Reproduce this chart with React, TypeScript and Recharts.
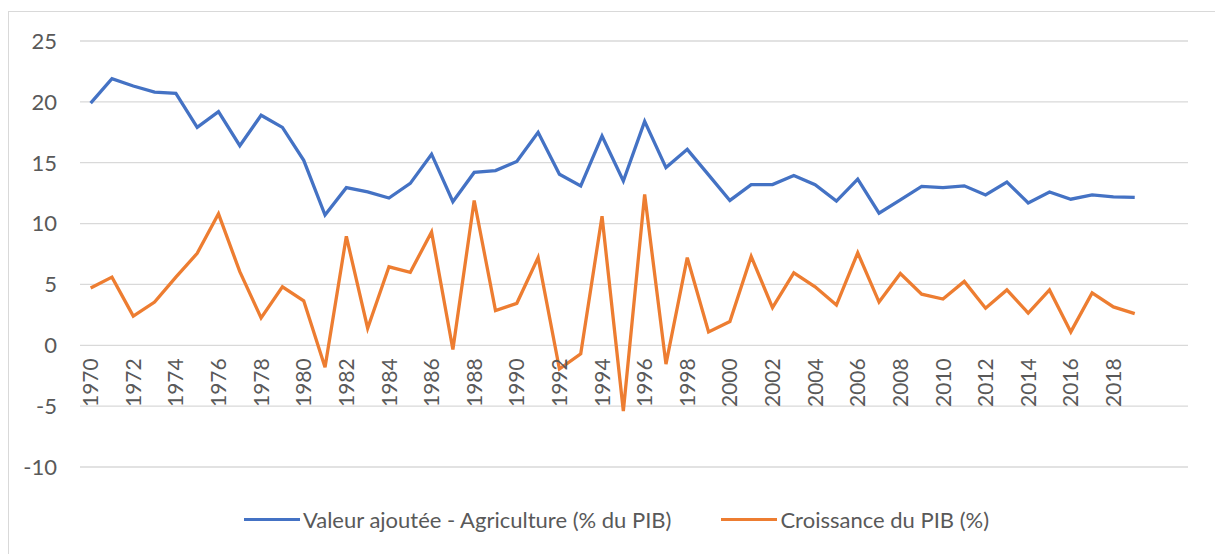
import React from 'react'
import { LineChart, Line, XAxis, YAxis, CartesianGrid, Legend } from 'recharts'

const YEARS = Array.from({ length: 52 }, (_, i) => 1970 + i)

const AGRI = [
  19.9, 21.9, 21.3, 20.8, 20.7, 17.9, 19.2, 16.4, 18.9, 17.9,
  15.2, 10.7, 12.95, 12.6, 12.1, 13.3, 15.7, 11.8, 14.2, 14.35,
  15.1, 17.5, 14.05, 13.1, 17.2, 13.5, 18.4, 14.6, 16.1, 14.0,
  11.9, 13.2, 13.2, 13.95, 13.2, 11.85, 13.65, 10.85, 11.95, 13.05,
  12.95, 13.1, 12.35, 13.4, 11.7, 12.6, 12.0, 12.35, 12.2, 12.15,
]

const GDP = [
  4.7, 5.6, 2.4, 3.55, 5.6, 7.55, 10.8, 6.05, 2.25, 4.8,
  3.65, -1.8, 8.95, 1.4, 6.45, 6.0, 9.3, -0.35, 11.9, 2.85,
  3.45, 7.2, -1.95, -0.7, 10.6, -5.4, 12.4, -1.55, 7.2, 1.1,
  1.95, 7.3, 3.1, 5.95, 4.8, 3.3, 7.6, 3.55, 5.9, 4.2,
  3.8, 5.25, 3.05, 4.55, 2.65, 4.55, 1.1, 4.3, 3.15, 2.6,
]

const Y_TICKS = [-10, -5, 0, 5, 10, 15, 20, 25]
const SERIES = [
  { key: 'agri', name: 'Valeur ajoutée - Agriculture (% du PIB)', color: '#4472C4' },
  { key: 'gdp', name: 'Croissance du PIB (%)', color: '#ED7D31' },
]

const W = 1206
const H = 542
const TOP = 29
const PLOT_H = 426
const FONT = 'Lato, "Liberation Sans", sans-serif'
const TEXT = '#595959'
// y of the zero line, where Excel puts the category labels
const ZERO_Y = TOP + PLOT_H * (Y_TICKS[Y_TICKS.length - 1] / (Y_TICKS[Y_TICKS.length - 1] - Y_TICKS[0]))

const data = YEARS.map((year, i) => ({
  year,
  agri: AGRI[i] ?? null,
  gdp: GDP[i] ?? null,
}))

function YearTick(props: any) {
  const { x, index, payload } = props
  if (index % 2 !== 0 || payload.value > 2018) return null
  return (
    <text
      x={0}
      y={0}
      transform={`translate(${x},${ZERO_Y + 13}) rotate(-90)`}
      textAnchor="end"
      dy="0.36em"
      fill={TEXT}
      fontSize={21}
      fontFamily={FONT}
    >
      {payload.value}
    </text>
  )
}

function LegendBox() {
  return (
    <div style={{ display: 'flex', justifyContent: 'center', gap: 50, height: 30, alignItems: 'center', paddingLeft: 9 }}>
      {SERIES.map(s => (
        <div key={s.key} style={{ display: 'flex', alignItems: 'center' }}>
          <div style={{ width: 56, height: 3, background: s.color, marginRight: 3 }} />
          <span style={{ color: TEXT, fontSize: 22, fontFamily: FONT }}>{s.name}</span>
        </div>
      ))}
    </div>
  )
}

export default function App() {
  return (
    <div
      style={{
        position: 'fixed',
        left: 8,
        top: 11,
        width: W + 1,
        height: H + 1,
        borderLeft: '1px solid #d9d9d9',
        borderTop: '1px solid #d9d9d9',
        background: '#fff',
      }}
    >
      <LineChart width={W} height={H} data={data} margin={{ top: TOP, right: 27, bottom: 56, left: 0 }}>
        <CartesianGrid vertical={false} stroke="#d9d9d9" strokeWidth={1.3} />
        <XAxis
          dataKey="year"
          interval={0}
          axisLine={false}
          tickLine={false}
          height={1}
          padding={{ left: 10.65, right: 10.65 }}
          tick={<YearTick />}
        />
        <YAxis
          domain={[-10, 25]}
          ticks={Y_TICKS}
          width={71}
          axisLine={false}
          tickLine={false}
          tickSize={0}
          tickMargin={23}
          tick={{ fill: TEXT, fontSize: 22, fontFamily: FONT }}
        />
        <Legend
          verticalAlign="bottom"
          content={<LegendBox />}
          wrapperStyle={{ left: 0, width: W, bottom: 20 }}
        />
        {SERIES.map(s => (
          <Line
            key={s.key}
            dataKey={s.key}
            name={s.name}
            stroke={s.color}
            strokeWidth={3.3}
            dot={false}
            isAnimationActive={false}
          />
        ))}
      </LineChart>
    </div>
  )
}
